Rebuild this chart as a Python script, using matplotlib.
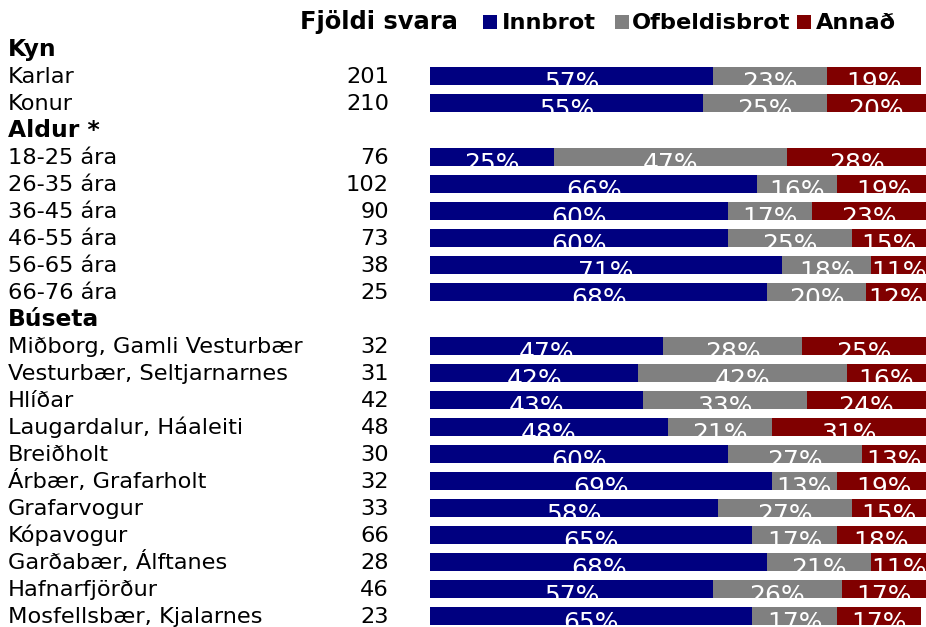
import matplotlib.pyplot as plt
from matplotlib.patches import Rectangle

# rows top to bottom; group headings have no counts or bars
labels = ["Kyn", "Karlar", "Konur", "Aldur *", "18-25 ára", "26-35 ára", "36-45 ára",
          "46-55 ára", "56-65 ára", "66-76 ára", "Búseta",
          "Miðborg, Gamli Vesturbær", "Vesturbær, Seltjarnarnes", "Hlíðar",
          "Laugardalur, Háaleiti", "Breiðholt", "Árbær, Grafarholt", "Grafarvogur",
          "Kópavogur", "Garðabær, Álftanes", "Hafnarfjörður", "Mosfellsbær, Kjalarnes"]
headers = ["Kyn", "Aldur *", "Búseta"]
counts = [None, 201, 210, None, 76, 102, 90, 73, 38, 25, None,
          32, 31, 42, 48, 30, 32, 33, 66, 28, 46, 23]
innbrot = [None, 57, 55, None, 25, 66, 60, 60, 71, 68, None,
           47, 42, 43, 48, 60, 69, 58, 65, 68, 57, 65]
ofbeldi = [None, 23, 25, None, 47, 16, 17, 25, 18, 20, None,
           28, 42, 33, 21, 27, 13, 27, 17, 21, 26, 17]
annad = [None, 19, 20, None, 28, 19, 23, 15, 11, 12, None,
         25, 16, 24, 31, 13, 19, 15, 18, 11, 17, 17]

series = [("Innbrot", innbrot, "#000080"),
          ("Ofbeldisbrot", ofbeldi, "#808080"),
          ("Annað", annad, "#800000")]

W, H = 926, 627
fig = plt.figure(figsize=(W / 100, H / 100), dpi=100)

# bar area in pixels; first row centred at y=49, rows 27 px apart
row0, step = 49, 27
x0 = 430
top = row0 - step / 2
ax = fig.add_axes([x0 / W, 0, 1 - x0 / W, (H - top) / H])
ax.set_xlim(0, 100)
ax.set_ylim((H - row0) / step, -0.5)
ax.axis("off")

fs = 16.2       # row labels and counts
fs_bold = 16.8  # headings
fs_leg = 16.2   # legend entries
fs_pct = 18     # values inside the bars
bar_h = 0.69

for i, lab in enumerate(labels):
    # text sits on a baseline 7 px below the row centre
    yf = 1 - (row0 + i * step + 7) / H
    if lab in headers:
        fig.text(8 / W, yf, lab, fontsize=fs_bold, fontweight="bold",
                 va="baseline", ha="left")
    else:
        fig.text(8 / W, yf, lab, fontsize=fs, va="baseline", ha="left")
    if counts[i] is not None:
        fig.text(389 / W, yf, str(counts[i]), fontsize=fs, va="baseline", ha="right")

    if innbrot[i] is None:
        continue
    left = 0
    for name, vals, col in series:
        v = vals[i]
        rect = Rectangle((left, i - bar_h / 2), v, bar_h, facecolor=col, edgecolor="none")
        ax.add_patch(rect)
        # values hang low in the bar and are cut off at its lower edge
        t = ax.text(left + v / 2, i + 0.25, f"{v}%", color="white", fontsize=fs_pct,
                    ha="center", va="center")
        t.set_clip_path(rect)
        left += v

# header line with legend
yl = 1 - 29 / H
fig.text(458 / W, yl, "Fjöldi svara", fontsize=17.4, fontweight="bold",
         ha="right", va="baseline")
legend_pos = [(483, 502), (615, 632), (797, 816)]
for (sx, tx), (name, vals, col) in zip(legend_pos, series):
    fig.patches.append(Rectangle((sx / W, 1 - 29 / H), 14 / W, 14 / H, facecolor=col,
                                 edgecolor="none", transform=fig.transFigure, figure=fig))
    fig.text(tx / W, yl, name, fontsize=fs_leg, fontweight="bold", ha="left", va="baseline")

fig.savefig("out.png", dpi=100)
